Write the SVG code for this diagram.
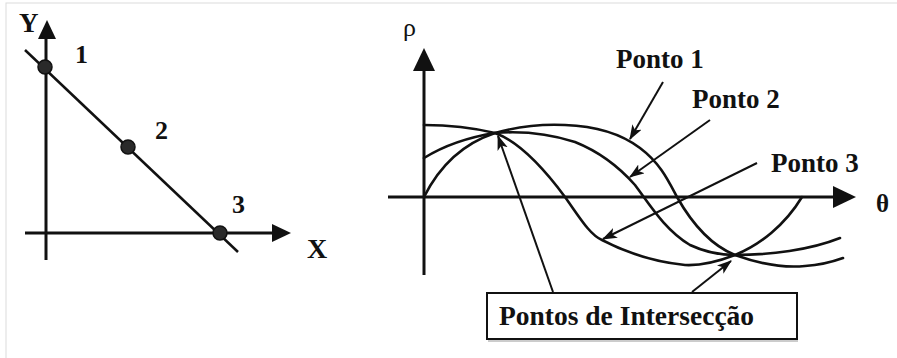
<svg xmlns="http://www.w3.org/2000/svg" width="897" height="358" viewBox="0 0 897 358">
<style>
.axis{stroke:#111;stroke-width:3;fill:none}
.line{stroke:#111;stroke-width:2.5;fill:none}
.curve{stroke:#111;stroke-width:2.6;fill:none;stroke-linecap:round}
.arr{stroke:#111;stroke-width:2;fill:none;marker-end:url(#ah)}
.head{fill:#111;stroke:none}
.lbl{font-family:"Liberation Serif","Times New Roman",serif;font-weight:bold;fill:#111}
.dot{fill:#2a2a2a;stroke:#111;stroke-width:1.5}
</style>
<defs>
<marker id="ah" viewBox="0 0 14 10" refX="13" refY="5" markerWidth="15" markerHeight="11" markerUnits="userSpaceOnUse" orient="auto">
<path d="M0,0 L14,5 L0,10 L3.5,5 z" fill="#111"/>
</marker>
</defs>
<rect x="6" y="3" width="900" height="360" fill="#fff" stroke="#dcdcdc" stroke-width="1"/>

<g id="xy-plot">
<line class="axis" x1="46" y1="36" x2="46" y2="260"/>
<polygon class="head" points="47,20 38,39 56,39"/>
<line class="axis" x1="25" y1="233" x2="275" y2="233"/>
<polygon class="head" points="291,233 272,224 272,242"/>
<line class="line" x1="25" y1="50" x2="238" y2="252"/>
<text class="lbl" x="19" y="32" font-size="27">Y</text>
<text class="lbl" x="307" y="258" font-size="28">X</text>
</g>
<g id="point-1"><circle class="dot" cx="45" cy="67" r="7"/><text class="lbl" x="75" y="63" font-size="26">1</text></g>
<g id="point-2"><circle class="dot" cx="128" cy="147" r="7"/><text class="lbl" x="155" y="139" font-size="26">2</text></g>
<g id="point-3"><circle class="dot" cx="220" cy="233" r="7"/><text class="lbl" x="232" y="213" font-size="26">3</text></g>

<g id="rho-theta-plot">
<line class="axis" x1="424" y1="66" x2="424" y2="275"/>
<polygon class="head" points="424,48 413,71 435,71"/>
<line class="axis" x1="388" y1="197" x2="836" y2="197"/>
<polygon class="head" points="856,197 833,186 833,208"/>
<text x="403" y="36" font-size="26" font-family="Liberation Serif, Times New Roman, serif" fill="#111">ρ</text>
<text class="lbl" x="876" y="212" font-size="25">θ</text>
</g>

<g id="curve-ponto-1">
<path class="curve" d="M424,197 C440,165 465,143 495,133 C520,126 545,124 565,125 C595,126 620,133 640,148 C660,163 668,180 677,197 C690,220 710,245 735,255 C760,264 785,268 805,266 C820,265 832,262 843,258"/>
</g>
<g id="curve-ponto-2">
<path class="curve" d="M424,158 C445,145 470,137 495,133 C520,131 550,134 575,142 C600,152 620,168 635,185 C650,205 665,230 690,245 C705,252 720,255 735,255 C770,255 810,250 840,238"/>
</g>
<g id="curve-ponto-3">
<path class="curve" d="M424,125 C450,125 470,127 495,133 C520,142 545,170 565,197 C580,218 590,235 602,240 C625,252 655,262 685,265 C705,266 722,260 735,255 C760,245 785,225 802,197"/>
</g>

<g id="label-ponto-1"><text class="lbl" x="616" y="68" font-size="27">Ponto 1</text></g>
<g id="label-ponto-2"><text class="lbl" x="692" y="108" font-size="27">Ponto 2</text></g>
<g id="label-ponto-3"><text class="lbl" x="771" y="172" font-size="27">Ponto 3</text></g>
<g id="label-intersections">
<rect x="487" y="293" width="310" height="46" fill="#fff" stroke="#111" stroke-width="2"/>
<line x1="488" y1="341" x2="798" y2="341" stroke="#999" stroke-width="1.2"/>
<text class="lbl" x="499" y="325" font-size="27.5">Pontos de Intersecção</text>
</g>

<g id="connectors">
<line class="arr" x1="663" y1="82" x2="630" y2="139"/>
<line class="arr" x1="710" y1="120" x2="630" y2="177"/>
<line class="arr" x1="757" y1="163" x2="603" y2="239"/>
<line class="arr" x1="553" y1="292" x2="498" y2="136"/>
<line class="arr" x1="692" y1="292" x2="731" y2="261"/>
</g>
</svg>
